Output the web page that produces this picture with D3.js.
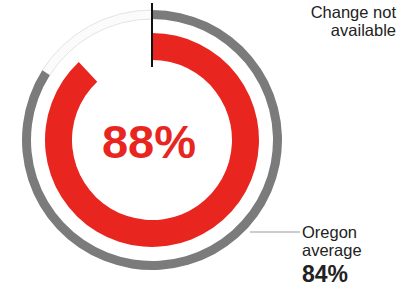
<!DOCTYPE html>
<meta charset="utf-8">
<style>
    html, body {
        margin: 0;
        background: #fff;
    }
    text {
        font-family: "Liberation Sans", Arial, sans-serif;
    }
</style>
<div id="chart"></div>
<script src="https://cdn.jsdelivr.net/npm/d3@7"></script>
<script>
    // data
    var schoolValue = [88];
    var stateAverage = [84];
    var changeLabel = ["Change not", "available"];
    var averageLabel = ["Oregon", "average"];

    var width = 408, height = 288;
    var cx = 152, cy = 140;

    var svg = d3.select("#chart").append("svg")
        .attr("width", width)
        .attr("height", height);

    var g = svg.append("g").attr("transform", "translate(" + cx + "," + cy + ")");

    // percent -> angle, clockwise from 12 o'clock
    var angle = d3.scaleLinear().domain([0, 100]).range([0, 2 * Math.PI]);

    var outerArc = d3.arc().innerRadius(121).outerRadius(130);
    var innerArc = d3.arc().innerRadius(80).outerRadius(107);

    // faint track for the rest of the average ring
    g.append("path")
        .attr("d", outerArc({startAngle: angle(stateAverage[0]), endAngle: angle(100)}))
        .attr("fill", "#fbfbfb")
        .attr("stroke", "#e4e4e4")
        .attr("stroke-width", 1);

    // state average ring
    g.selectAll("path.avg")
        .data(stateAverage)
        .enter().append("path")
        .attr("class", "avg")
        .attr("d", function(d) { return outerArc({startAngle: 0, endAngle: angle(d)}); })
        .attr("fill", "#7b7b7b");

    // school value ring
    g.selectAll("path.val")
        .data(schoolValue)
        .enter().append("path")
        .attr("class", "val")
        .attr("d", function(d) { return innerArc({startAngle: 0, endAngle: angle(d)}); })
        .attr("fill", "#e8261f");

    // black marker at 0%
    g.append("line")
        .attr("x1", 0).attr("x2", 0)
        .attr("y1", -137).attr("y2", -73)
        .attr("stroke", "#111")
        .attr("stroke-width", 2);

    // big number in the middle
    g.append("text")
        .attr("x", -3)
        .attr("y", 18)
        .attr("text-anchor", "middle")
        .attr("fill", "#e8261f")
        .attr("font-size", 47)
        .attr("font-weight", "bold")
        .text(schoolValue[0] + "%");

    // top-right label
    svg.selectAll("text.change")
        .data(changeLabel)
        .enter().append("text")
        .attr("class", "change")
        .attr("text-anchor", "end")
        .attr("font-size", 16.5)
        .attr("fill", "#222")
        .attr("x", 396)
        .attr("y", function(d, i) { return 18 + i * 18; })
        .text(function(d) { return d; });

    // connector to the average label
    svg.append("line")
        .attr("x1", 250).attr("x2", 300)
        .attr("y1", 232).attr("y2", 232)
        .attr("stroke", "#999")
        .attr("stroke-width", 1);

    svg.selectAll("text.avg-label")
        .data(averageLabel)
        .enter().append("text")
        .attr("class", "avg-label")
        .attr("font-size", 16.5)
        .attr("fill", "#222")
        .attr("x", 302)
        .attr("y", function(d, i) { return 238 + i * 18; })
        .text(function(d) { return d; });

    svg.append("text")
        .attr("x", 302)
        .attr("y", 282)
        .attr("font-size", 23)
        .attr("font-weight", "bold")
        .attr("fill", "#222")
        .text(stateAverage[0] + "%");
</script>
